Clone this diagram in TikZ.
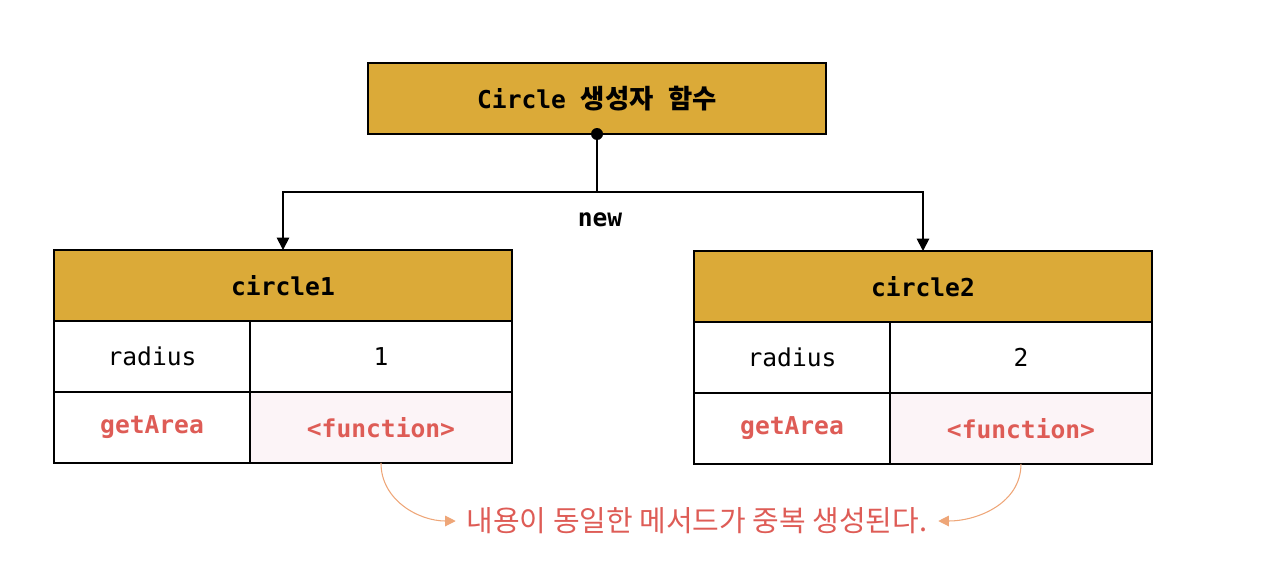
\documentclass[tikz,border=0pt]{standalone}
\usepackage{fontspec}
\usepackage{xcolor}
\usepackage{tikz}
\usetikzlibrary{arrows.meta,positioning}
\setmonofont{DejaVu Sans Mono}
\newfontfamily\krfont{Noto Sans CJK KR}
\definecolor{ctorgold}{RGB}{219,170,56}
\definecolor{methodred}{RGB}{222,92,86}
\definecolor{notearrow}{RGB}{238,166,120}
\definecolor{fnpink}{RGB}{252,244,247}

\tikzset{
  codetext/.style={font=\ttfamily\fontsize{14}{16}\selectfont},
  boldcode/.style={font=\ttfamily\bfseries\fontsize{14}{16}\selectfont},
  box/.style={draw, line width=1pt, outer sep=0pt, minimum height=1.42cm},
  ctorbox/.style={box, fill=ctorgold, boldcode, minimum width=9.16cm},
  objhdr/.style={box, fill=ctorgold, boldcode, minimum width=9.16cm},
  keycell/.style={box, codetext, minimum width=3.92cm, anchor=north west},
  valcell/.style={box, codetext, minimum width=5.24cm, anchor=north west},
  methodkey/.style={keycell, boldcode, text=methodred},
  methodval/.style={valcell, boldcode, text=methodred, fill=fnpink},
  newarrow/.style={-{Triangle[width=7pt,length=7pt]}, line width=1pt},
  notearr/.style={-{Triangle[width=6pt,length=6pt]}, notearrow, line width=0.6pt}
}

\begin{document}
\begin{tikzpicture}[x=0.02cm, y=-0.02cm]
        \useasboundingbox (0,0) rectangle (1262,566);

        % Constructor
        \node[ctorbox] (ctor) at (597,98.5) {Circle {\krfont\bfseries\fontsize{15}{16}\selectfont 생성자} {\krfont\bfseries\fontsize{15}{16}\selectfont 함수}};
        \coordinate (split) at (597,192);

        % circle1 object
        \node[objhdr] (c1) at (283,285.5) {circle1};
        \node[keycell] (c1key) at (c1.south west) {radius};
        \node[valcell] (c1val) at (c1key.north east) {1};
        \node[methodkey] (c1mkey) at (c1key.south west) {getArea};
        \node[methodval] (c1mval) at (c1mkey.north east) {<function>};

        % circle2 object
        \node[objhdr] (c2) at (923,286.5) {circle2};
        \node[keycell] (c2key) at (c2.south west) {radius};
        \node[valcell] (c2val) at (c2key.north east) {2};
        \node[methodkey] (c2mkey) at (c2key.south west) {getArea};
        \node[methodval] (c2mval) at (c2mkey.north east) {<function>};

        % new
        \fill (ctor.south) circle (6);
        \draw[line width=1pt] (ctor.south) -- (split);
        \draw[newarrow] (split) -| (c1.north);
        \draw[newarrow] (split) -| (c2.north);
        \node[boldcode] (newlbl) at (600,220) {new};

        % Duplicate methods
        \node[font=\krfont\fontsize{16.5}{20}\selectfont, text=methodred, inner sep=6pt] (note) at (697,521) {내용이 동일한 메서드가 중복 생성된다.};
        \draw[notearr] (c1mval.south) to[out=-90, in=180] (note.west);
        \draw[notearr] (c2mval.south) to[out=-90, in=0] (note.east);
    \end{tikzpicture}
\end{document}
